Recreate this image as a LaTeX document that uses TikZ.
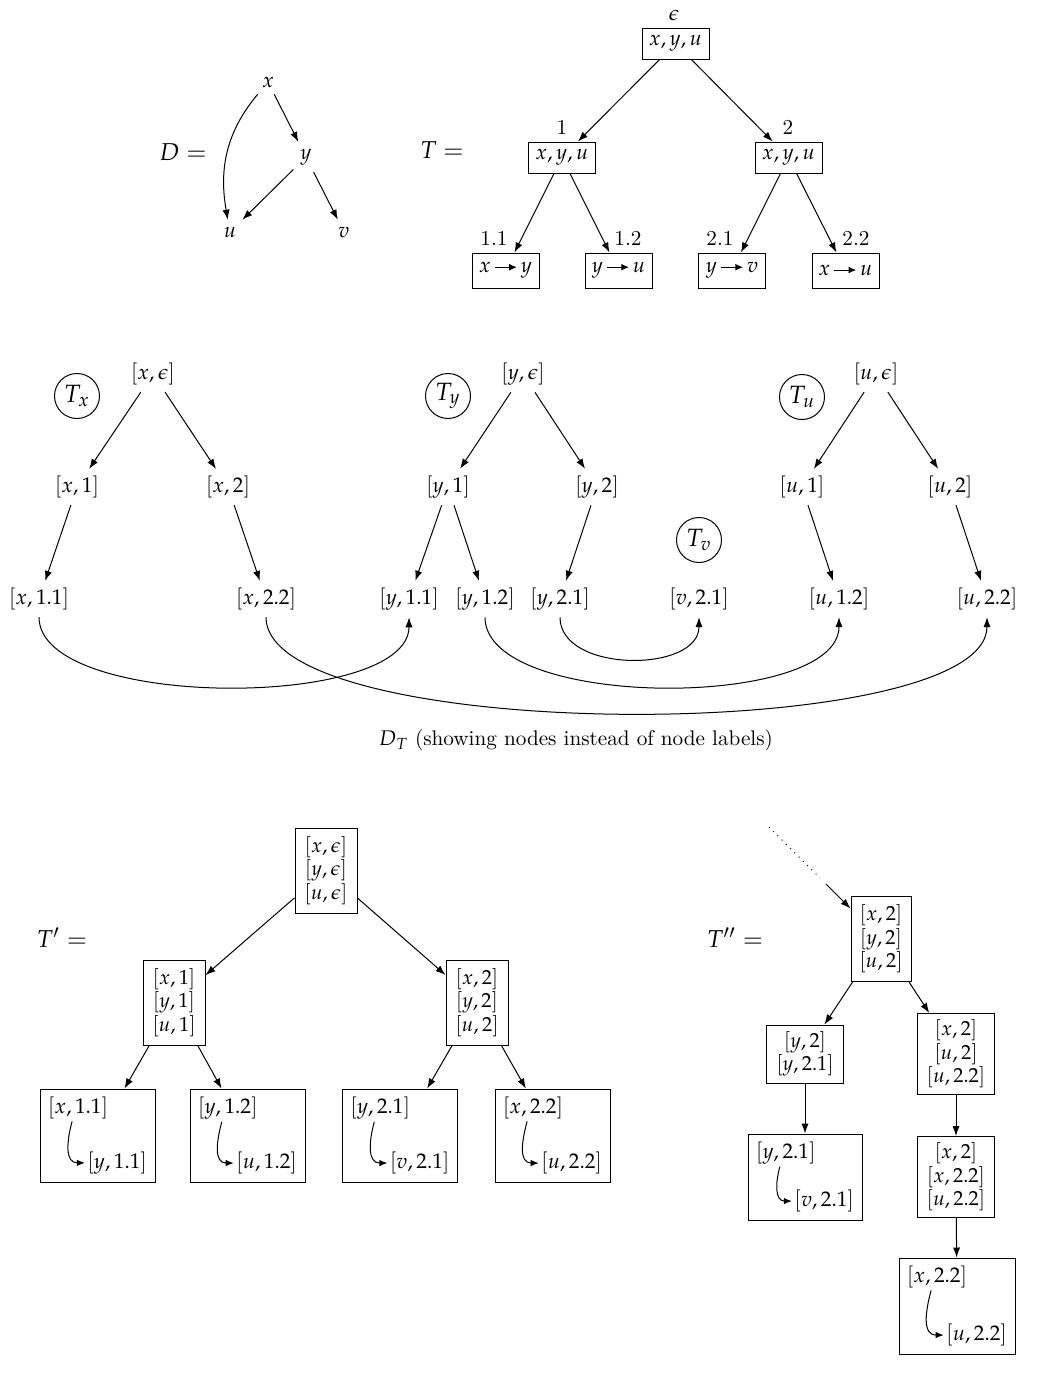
\documentclass[tikz,border=0pt]{standalone}
\usepackage{mathpazo}
\usetikzlibrary{arrows.meta}
\newcommand{\tarr}{\mkern3mu\tikz[baseline=-0.6ex]\draw[-{Latex[length=3.8pt,width=3.4pt]},line width=0.5pt] (0pt,0pt)--(11pt,0pt);\mkern3mu}
\begin{document}
\begin{tikzpicture}[x=0.5pt,y=0.5pt,
  every node/.style={font=\fontsize{10.6}{11.25}\selectfont},
  big/.style={font=\fontsize{12.2}{14}\selectfont},
  arr/.style={-{Latex[length=5pt,width=3.6pt]}, line width=0.5pt},
  tbox/.style={draw, line width=0.5pt, minimum width=33.5pt, minimum height=15.5pt, inner sep=1pt},
  tleaf/.style={tbox, minimum height=17.5pt},
  lbl/.style={inner sep=1pt},
  circ/.style={draw, circle, minimum size=22.5pt, inner sep=0pt, line width=0.5pt, font=\fontsize{12.5}{14}\selectfont},
  sbox/.style={draw, line width=0.5pt, align=center, inner sep=1pt, font=\fontsize{10.2}{11.8}\selectfont},
  lbox/.style={draw, line width=0.5pt, inner sep=0pt},
  ltxt/.style={inner sep=1pt},
  carr/.style={-{Latex[length=4pt,width=3.2pt]}, line width=0.5pt},
  dots/.style={line width=0.5pt, dash pattern=on 0.5pt off 2.5pt},
]
\useasboundingbox (0,0) rectangle (1037,-1382);

% ---------------- D ----------------
\node[big] (Dlab) at (183,-152) {$D =$};
\node (dx) at (268,-82) {$x$};
\node (dy) at (306,-157) {$y$};
\node (du) at (230,-232) {$u$};
\node (dv) at (344,-232) {$v$};
\draw[arr] (dx) -- (dy);
\draw[arr] (dy) -- (du);
\draw[arr] (dy) -- (dv);
\draw[arr] (dx) to[out=-130,in=100] (du);

% ---------------- T ----------------
\node[big] (Tlab) at (442,-150) {$T =$};
\node[tbox] (t0) at (675.5,-43.5) {$x, y, u$};
\node[tbox] (t1) at (562,-157.5) {$x, y, u$};
\node[tbox] (t2) at (788.5,-157.5) {$x, y, u$};
\node[tleaf] (t11) at (505.5,-270.5) {$x\tarr y$};
\node[tleaf] (t12) at (618.5,-270.5) {$y\tarr u$};
\node[tleaf] (t21) at (732,-270.5) {$y\tarr v$};
\node[tleaf] (t22) at (845.5,-270.5) {$x\tarr u$};
\node[lbl] (l0) at (674,-15) {$\epsilon$};
\node[lbl] (l1) at (562,-127) {1};
\node[lbl] (l2) at (788,-127) {2};
\node[lbl] (l11) at (494,-238) {1.1};
\node[lbl] (l12) at (628,-238) {1.2};
\node[lbl] (l21) at (720,-238) {2.1};
\node[lbl] (l22) at (856,-238) {2.2};
\draw[arr] (t0) -- (t1);
\draw[arr] (t0) -- (t2);
\draw[arr] (t1) -- (t11);
\draw[arr] (t1) -- (t12);
\draw[arr] (t2) -- (t21);
\draw[arr] (t2) -- (t22);

% ---------------- D_T ----------------
\node[circ] (cx) at (77,-396) {$T_x$};
\node (x0) at (153,-374) {$[x,\epsilon]$};
\node (x1) at (77,-487) {$[x,1]$};
\node (x2) at (228,-487) {$[x,2]$};
\node (x11) at (39,-599) {$[x,1.1]$};
\node (x22) at (266,-599) {$[x,2.2]$};
\node[circ] (cy) at (448,-396) {$T_y$};
\node (y0) at (523,-374) {$[y,\epsilon]$};
\node (y1) at (448,-487) {$[y,1]$};
\node (y2) at (597,-487) {$[y,2]$};
\node (y11) at (409,-599) {$[y,1.1]$};
\node (y12) at (485,-599) {$[y,1.2]$};
\node (y21) at (560,-599) {$[y,2.1]$};
\node[circ] (cv) at (699,-540) {$T_v$};
\node (v21) at (699,-599) {$[v,2.1]$};
\node[circ] (cu) at (802,-397) {$T_u$};
\node (u0) at (876,-374) {$[u,\epsilon]$};
\node (u1) at (802,-487) {$[u,1]$};
\node (u2) at (950,-487) {$[u,2]$};
\node (u12) at (839,-599) {$[u,1.2]$};
\node (u22) at (987,-599) {$[u,2.2]$};
\draw[arr] (x0) -- (x1);
\draw[arr] (x0) -- (x2);
\draw[arr] (x1) -- (x11);
\draw[arr] (x2) -- (x22);
\draw[arr] (y0) -- (y1);
\draw[arr] (y0) -- (y2);
\draw[arr] (y1) -- (y11);
\draw[arr] (y1) -- (y12);
\draw[arr] (y2) -- (y21);
\draw[arr] (u0) -- (u1);
\draw[arr] (u0) -- (u2);
\draw[arr] (u1) -- (u12);
\draw[arr] (u2) -- (u22);
\draw[arr] (x11.south) .. controls +(0,-93) and +(0,-93) .. (y11.south);
\draw[arr] (x22.south) .. controls +(0,-128) and +(0,-128) .. (u22.south);
\draw[arr] (y12.south) .. controls +(0,-93) and +(0,-93) .. (u12.south);
\draw[arr] (y21.south) .. controls +(0,-56) and +(0,-56) .. (v21.south);
\node (cap) at (576,-740) {$D_T$ (showing nodes instead of node labels)};

% ---------------- T' ----------------
\node[big] (Tp) at (62,-938) {$T' =$};
\node[sbox, minimum width=31pt, minimum height=42.5pt] (p0) at (326,-870.5) {$[x,\epsilon]$\\$[y,\epsilon]$\\$[u,\epsilon]$};
\node[sbox, minimum width=31pt, minimum height=42.5pt] (p1) at (174,-1002.5) {$[x,1]$\\$[y,1]$\\$[u,1]$};
\node[sbox, minimum width=31pt, minimum height=42.5pt] (p2) at (477,-1002.5) {$[x,2]$\\$[y,2]$\\$[u,2]$};
\draw[arr] (p0) -- (p1);
\draw[arr] (p0) -- (p2);

\node[lbox, minimum width=57.5pt, minimum height=46.5pt] (p11) at (97.5,-1135.5) {};
\node[ltxt, anchor=north west] (p11a) at ([shift={(3pt,-3pt)}]p11.north west) {$[x,1.1]$};
\node[ltxt, anchor=south east] (p11b) at ([shift={(-3pt,3pt)}]p11.south east) {$[y,1.1]$};
\draw[carr] ([xshift=-3pt]p11a.south) to[out=-105,in=180,looseness=1.2] (p11b.west);

\node[lbox, minimum width=57.5pt, minimum height=46.5pt] (p12) at (247.5,-1135.5) {};
\node[ltxt, anchor=north west] (p12a) at ([shift={(3pt,-3pt)}]p12.north west) {$[y,1.2]$};
\node[ltxt, anchor=south east] (p12b) at ([shift={(-3pt,3pt)}]p12.south east) {$[u,1.2]$};
\draw[carr] ([xshift=-3pt]p12a.south) to[out=-105,in=180,looseness=1.2] (p12b.west);

\node[lbox, minimum width=57.5pt, minimum height=46.5pt] (p21) at (400,-1135.5) {};
\node[ltxt, anchor=north west] (p21a) at ([shift={(3pt,-3pt)}]p21.north west) {$[y,2.1]$};
\node[ltxt, anchor=south east] (p21b) at ([shift={(-3pt,3pt)}]p21.south east) {$[v,2.1]$};
\draw[carr] ([xshift=-3pt]p21a.south) to[out=-105,in=180,looseness=1.2] (p21b.west);

\node[lbox, minimum width=57.5pt, minimum height=46.5pt] (p22) at (552.5,-1135.5) {};
\node[ltxt, anchor=north west] (p22a) at ([shift={(3pt,-3pt)}]p22.north west) {$[x,2.2]$};
\node[ltxt, anchor=south east] (p22b) at ([shift={(-3pt,3pt)}]p22.south east) {$[u,2.2]$};
\draw[carr] ([xshift=-3pt]p22a.south) to[out=-105,in=180,looseness=1.2] (p22b.west);

\draw[arr] (p1) -- (p11);
\draw[arr] (p1) -- (p12);
\draw[arr] (p2) -- (p21);
\draw[arr] (p2) -- (p22);

% ---------------- T'' ----------------
\node[big] (Tpp) at (735,-938) {$T'' =$};
\node[sbox, minimum width=30pt, minimum height=42.5pt] (q0) at (881,-939) {$[x,2]$\\$[y,2]$\\$[u,2]$};
\coordinate (ds) at (769,-827);
\coordinate (de) at (820,-878);
\coordinate (ss) at (826,-884);
\draw[dots] (ds) -- (de);
\draw[arr] (ss) -- (q0);
\node[sbox, minimum width=38.5pt, minimum height=29pt] (q1) at (805,-1054) {$[y,2]$\\$[y,2.1]$};
\node[sbox, minimum width=38.5pt, minimum height=40.5pt] (q2) at (956,-1054) {$[x,2]$\\$[u,2]$\\$[u,2.2]$};
\node[sbox, minimum width=38.5pt, minimum height=40.5pt] (q3) at (956,-1177) {$[x,2]$\\$[x,2.2]$\\$[u,2.2]$};

\node[lbox, minimum width=57pt, minimum height=43pt] (q11) at (805,-1177) {};
\node[ltxt, anchor=north west] (q11a) at ([shift={(3pt,-3pt)}]q11.north west) {$[y,2.1]$};
\node[ltxt, anchor=south east] (q11b) at ([shift={(-3pt,3pt)}]q11.south east) {$[v,2.1]$};
\draw[carr] ([xshift=-3pt]q11a.south) to[out=-105,in=180,looseness=1.2] (q11b.west);

\node[lbox, minimum width=58pt, minimum height=48pt] (q31) at (957,-1306) {};
\node[ltxt, anchor=north west] (q31a) at ([shift={(3pt,-3pt)}]q31.north west) {$[x,2.2]$};
\node[ltxt, anchor=south east] (q31b) at ([shift={(-3pt,3pt)}]q31.south east) {$[u,2.2]$};
\draw[carr] ([xshift=-3pt]q31a.south) to[out=-105,in=180,looseness=1.2] (q31b.west);

\draw[arr] (q0) -- (q1);
\draw[arr] (q0) -- (q2);
\draw[arr] (q1) -- (q11);
\draw[arr] (q2) -- (q3);
\draw[arr] (q3) -- (q31);
\end{tikzpicture}
\end{document}
